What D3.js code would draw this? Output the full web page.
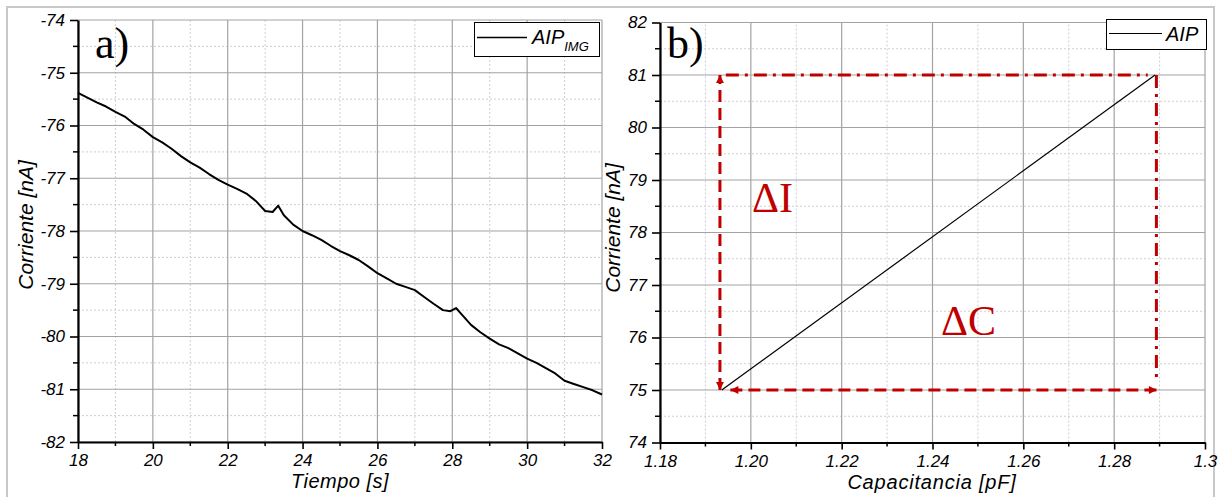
<!DOCTYPE html>
<html><head><meta charset="utf-8">
<script src="https://cdn.jsdelivr.net/npm/d3@7"></script>
<style>body{margin:0;background:#fff} svg{display:block}</style>
</head><body>
<svg id="c" width="1218" height="497"></svg>
<script>
// ---------- data ----------
const timeA = [18,18.25,18.5,18.75,19,19.25,19.5,19.75,20,20.25,20.5,20.75,21,21.25,21.5,21.75,22,22.25,22.5,22.75,23,23.2,23.35,23.5,23.75,24,24.25,24.5,24.75,25,25.25,25.5,25.75,26,26.25,26.5,26.75,27,27.25,27.5,27.75,27.95,28.1,28.25,28.5,28.75,29,29.25,29.5,29.75,30,30.25,30.5,30.75,31,31.25,31.5,31.75,32];
const currentA = [-75.38,-75.47,-75.56,-75.64,-75.74,-75.83,-75.97,-76.08,-76.22,-76.32,-76.44,-76.58,-76.70,-76.80,-76.92,-77.03,-77.12,-77.20,-77.29,-77.43,-77.62,-77.64,-77.52,-77.70,-77.88,-78.00,-78.08,-78.17,-78.28,-78.38,-78.46,-78.55,-78.67,-78.80,-78.90,-79.00,-79.06,-79.12,-79.25,-79.38,-79.50,-79.52,-79.46,-79.58,-79.78,-79.92,-80.04,-80.15,-80.22,-80.32,-80.42,-80.50,-80.60,-80.70,-80.84,-80.90,-80.96,-81.02,-81.10];
const capB = [1.1936, 1.2890];
const currentB = [75, 81];
const xTicksA = [18,20,22,24,26,28,30,32];
const xMinorA = [19,21,23,25,27,29,31];
const yTicksA = [-82,-81,-80,-79,-78,-77,-76,-75,-74];
const yMinorA = [-81.5,-80.5,-79.5,-78.5,-77.5,-76.5,-75.5,-74.5];
const xTicksB = [1.18,1.20,1.22,1.24,1.26,1.28,1.30];
const xTickLabelsB = ["1.18","1.20","1.22","1.24","1.26","1.28","1.3"];
const xMinorB = [1.19,1.21,1.23,1.25,1.27,1.29];
const yTicksB = [74,75,76,77,78,79,80,81,82];
const yMinorB = [74.5,75.5,76.5,77.5,78.5,79.5,80.5,81.5];
// annotation geometry (data units)
const deltaIArrowC = [1.1932, 1.1932];
const deltaIArrowI = [75, 81];
const deltaCArrowC = [1.1955, 1.2894];
const deltaCArrowI = [75, 75];
const topDashC = [1.1945, 1.2874];
const topDashI = [81, 81];
const rightDashC = [1.2893, 1.2893];
const rightDashI = [81, 75.18];

const svg = d3.select("#c");
const RED = "#c00000";
const sansIt = "'Liberation Sans', Arial, sans-serif";

// outer frame
svg.append("rect").attr("x",7).attr("y",7).attr("width",1207).attr("height",510)
  .attr("fill","none").attr("stroke","#c8c8c8").attr("stroke-width",2);

const defs = svg.append("defs");
defs.append("marker").attr("id","arr").attr("viewBox","0 0 10 10")
  .attr("refX",10).attr("refY",5).attr("markerUnits","userSpaceOnUse")
  .attr("markerWidth",9).attr("markerHeight",8).attr("orient","auto-start-reverse")
  .append("path").attr("d","M0,0 L10,5 L0,10 z").attr("fill",RED);

function panel(o){
  const g = svg.append("g");
  const x = o.x, y = o.y;
  const [x0,x1] = x.range(), [y0,y1] = y.range();
  // minor grid
  g.selectAll(".mgx").data(o.xMinor).join("line")
    .attr("x1",d=>x(d)).attr("x2",d=>x(d)).attr("y1",y0).attr("y2",y1)
    .attr("stroke","#cfcfcf").attr("stroke-width",1).attr("stroke-dasharray","2,2");
  g.selectAll(".mgy").data(o.yMinor).join("line")
    .attr("y1",d=>y(d)).attr("y2",d=>y(d)).attr("x1",x0).attr("x2",x1)
    .attr("stroke","#cfcfcf").attr("stroke-width",1).attr("stroke-dasharray","2,2");
  // major grid
  g.selectAll(".Mgx").data(o.xTicks).join("line")
    .attr("x1",d=>x(d)).attr("x2",d=>x(d)).attr("y1",y0).attr("y2",y1)
    .attr("stroke","#a3a3a3").attr("stroke-width",1.2);
  g.selectAll(".Mgy").data(o.yTicks).join("line")
    .attr("y1",d=>y(d)).attr("y2",d=>y(d)).attr("x1",x0).attr("x2",x1)
    .attr("stroke","#a3a3a3").attr("stroke-width",1.2);

  // axes
  const ax = g.append("g").attr("transform",`translate(0,${y0})`)
    .call(d3.axisBottom(x).tickValues(o.xTicks).tickSize(7).tickSizeOuter(0).tickPadding(5)
      .tickFormat((d,i)=>o.xLabels ? o.xLabels[i] : String(d)));
  ax.append("g").selectAll("line").data(o.xMinor).join("line")
    .attr("x1",d=>x(d)).attr("x2",d=>x(d)).attr("y1",0).attr("y2",4).attr("stroke","#000").attr("stroke-width",1.5);
  const ay = g.append("g").attr("transform",`translate(${x0},0)`)
    .call(d3.axisLeft(y).tickValues(o.yTicks).tickSize(8).tickSizeOuter(0).tickPadding(5)
      .tickFormat(d=>String(d)));
  ay.append("g").selectAll("line").data(o.yMinor).join("line")
    .attr("y1",d=>y(d)).attr("y2",d=>y(d)).attr("x1",0).attr("x2",-5).attr("stroke","#000").attr("stroke-width",1.5);
  [ax,ay].forEach(a=>{
    a.select(".domain").attr("stroke","#000").attr("stroke-width",2.2);
    a.selectAll(".tick line").attr("stroke","#000").attr("stroke-width",1.6);
    a.selectAll(".tick text").attr("font-family",sansIt).attr("font-style","italic")
      .attr("font-size",17).attr("fill","#000");
  });

  // axis titles
  g.append("text").attr("x",o.xTitlePos[0]).attr("y",o.xTitlePos[1]).attr("text-anchor","middle")
    .attr("font-family",sansIt).attr("font-style","italic").attr("font-size",20).attr("letter-spacing",o.titleSpacing||0)
    .text(o.xTitle);
  g.append("text").attr("transform",`translate(${o.yTitlePos[0]},${o.yTitlePos[1]}) rotate(-90)`)
    .attr("text-anchor","middle").attr("font-family",sansIt).attr("font-style","italic").attr("font-size",21)
    .text(o.yTitle);
  // panel label
  g.append("text").attr("x",o.labelPos[0]).attr("y",o.labelPos[1])
    .attr("font-family","'Liberation Serif','Times New Roman',serif").attr("font-size",44).text(o.label);
  return g;
}

// ---------- panel a ----------
const xA = d3.scaleLinear().domain([18,32]).range([78,602]);
const yA = d3.scaleLinear().domain([-82,-74]).range([442,20]);
const gA = panel({x:xA,y:yA,xTicks:xTicksA,xMinor:xMinorA,yTicks:yTicksA,yMinor:yMinorA,
  xTitle:"Tiempo [s]", yTitle:"Corriente [nA]", xTitlePos:[340,488], yTitlePos:[33,225],
  label:"a)", labelPos:[95,58], titleSpacing:0.5});
gA.append("path").datum(d3.zip(timeA,currentA))
  .attr("d",d3.line().x(d=>xA(d[0])).y(d=>yA(d[1])))
  .attr("fill","none").attr("stroke","#000").attr("stroke-width",2).attr("stroke-linejoin","round");
// legend a
const lgA = gA.append("g");
lgA.append("rect").attr("x",474.5).attr("y",22.5).attr("width",125).attr("height",34)
  .attr("fill","#fff").attr("stroke","#000").attr("stroke-width",1);
lgA.append("line").attr("x1",477).attr("x2",527).attr("y1",37.5).attr("y2",37.5).attr("stroke","#000").attr("stroke-width",1.5);
const tA = lgA.append("text").attr("x",532).attr("y",44).attr("font-family",sansIt).attr("font-style","italic").attr("font-size",20);
tA.append("tspan").text("AIP");
tA.append("tspan").attr("dy",7).attr("font-size",13).text("IMG");

// ---------- panel b ----------
const xB = d3.scaleLinear().domain([1.18,1.30]).range([660,1205]);
const yB = d3.scaleLinear().domain([74,82]).range([442.5,22.5]);
const gB = panel({x:xB,y:yB,xTicks:xTicksB,xMinor:xMinorB,yTicks:yTicksB,yMinor:yMinorB,xLabels:xTickLabelsB,
  xTitle:"Capacitancia [pF]", yTitle:"Corriente [nA]", xTitlePos:[932,489], yTitlePos:[620,228],
  label:"b)", labelPos:[667,58], titleSpacing:0.8});
gB.append("path").datum(d3.zip(capB,currentB))
  .attr("d",d3.line().x(d=>xB(d[0])).y(d=>yB(d[1])))
  .attr("fill","none").attr("stroke","#000").attr("stroke-width",1.2);

const ln = d3.line().x(d=>xB(d[0])).y(d=>yB(d[1]));
gB.append("path").datum(d3.zip(topDashC,topDashI)).attr("d",ln)
  .attr("stroke",RED).attr("stroke-width",3).attr("fill","none").attr("stroke-dasharray","13,6,3,6");
gB.append("path").datum(d3.zip(rightDashC,rightDashI)).attr("d",ln)
  .attr("stroke",RED).attr("stroke-width",3).attr("fill","none").attr("stroke-dasharray","13,6,3,6");
gB.append("path").datum(d3.zip(deltaIArrowC,deltaIArrowI)).attr("d",ln)
  .attr("stroke",RED).attr("stroke-width",3).attr("fill","none").attr("stroke-dasharray","12,6")
  .attr("marker-start","url(#arr)").attr("marker-end","url(#arr)");
gB.append("path").datum(d3.zip(deltaCArrowC,deltaCArrowI)).attr("d",ln)
  .attr("stroke",RED).attr("stroke-width",3).attr("fill","none").attr("stroke-dasharray","12,6")
  .attr("marker-start","url(#arr)").attr("marker-end","url(#arr)");
gB.append("text").attr("x",752).attr("y",212).attr("fill",RED)
  .attr("font-family","'Liberation Serif','Times New Roman',serif").attr("font-size",42).text("ΔI");
gB.append("text").attr("x",941).attr("y",335).attr("fill",RED)
  .attr("font-family","'Liberation Serif','Times New Roman',serif").attr("font-size",42).text("ΔC");
// legend b
const lgB = gB.append("g");
lgB.append("rect").attr("x",1106.5).attr("y",19.5).attr("width",100).attr("height",30)
  .attr("fill","#fff").attr("stroke","#000").attr("stroke-width",1);
lgB.append("line").attr("x1",1109).attr("x2",1162).attr("y1",33.5).attr("y2",33.5).attr("stroke","#000").attr("stroke-width",1.2);
lgB.append("text").attr("x",1166).attr("y",41).attr("font-family",sansIt).attr("font-style","italic").attr("font-size",20).text("AIP");
</script>
</body></html>
